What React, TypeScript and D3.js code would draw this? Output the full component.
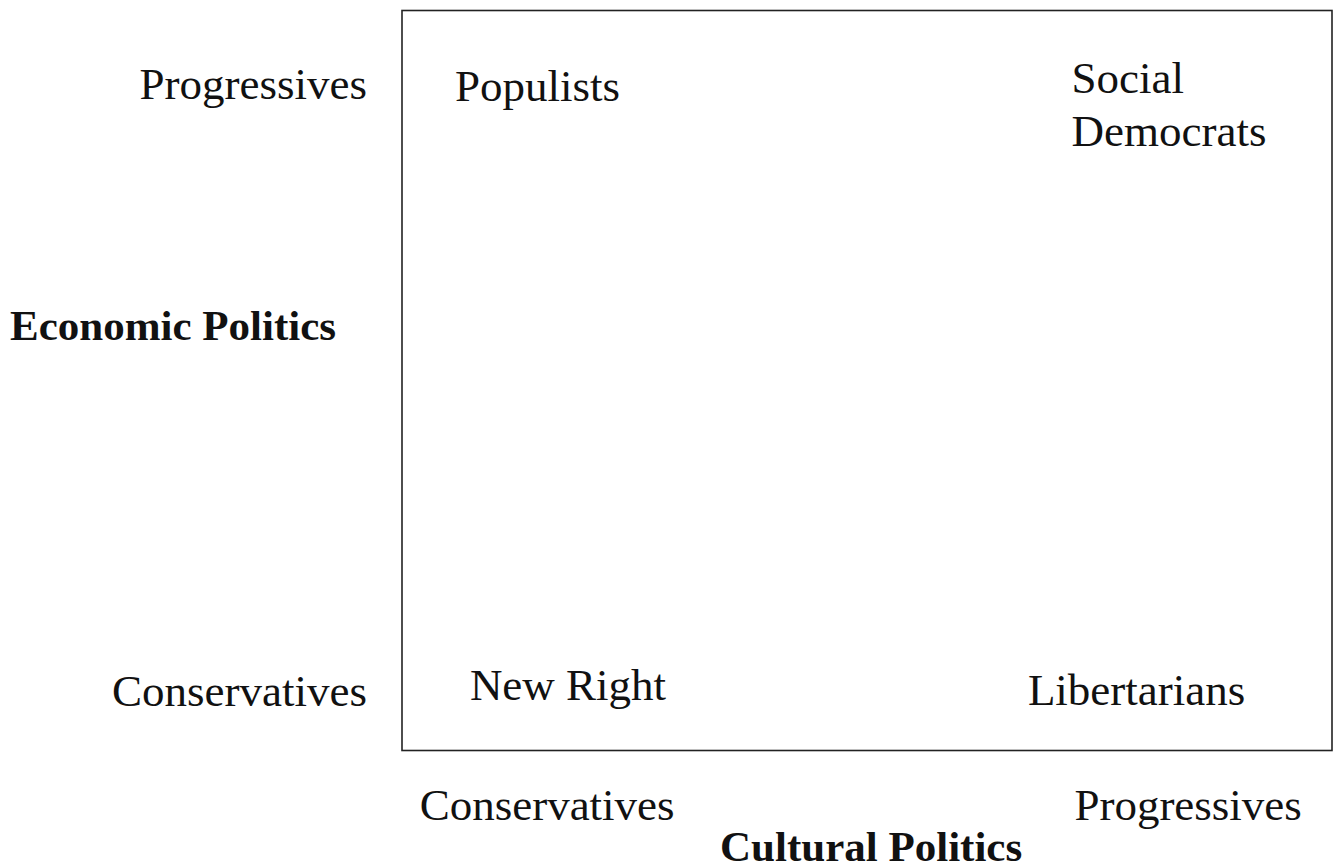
import * as d3 from 'd3';
import { useEffect, useRef } from 'react';

// quadrant names, placed by (cultural, economic) position on a 0..1 scale
const quadrantNames = [['Populists'], ['Social', 'Democrats'], ['New Right'], ['Libertarians']];
const quadrantCultural = [0.057, 0.72, 0.073, 0.673];
const quadrantEconomic = [0.878, 0.888, 0.068, 0.061];

// axis end labels
const economicTicks = ['Conservatives', 'Progressives'];
const economicTickValues = [0.06, 0.88];
const culturalTicks = ['Conservatives', 'Progressives'];
const culturalTickValues = [0.019, 0.723];

const economicTitle = 'Economic Politics';
const culturalTitle = 'Cultural Politics';

function App() {
  const svgRef = useRef(null);

  useEffect(() => {
    const svg = d3.select(svgRef.current);
    svg.selectAll('*').remove();

    const width = 1333;
    const height = 867;
    const box = { left: 402, top: 10.5, right: 1332, bottom: 750.5 };
    const font = '"Liberation Serif", "Times New Roman", serif';
    const fontSize = 45;
    const titleSize = 43;

    const xScale = d3.scaleLinear().domain([0, 1]).range([box.left, box.right]);
    const yScale = d3.scaleLinear().domain([0, 1]).range([box.bottom, box.top]);

    svg.attr('width', width).attr('height', height);

    svg.append('rect')
      .attr('x', xScale(0))
      .attr('y', yScale(1))
      .attr('width', xScale(1) - xScale(0))
      .attr('height', yScale(0) - yScale(1))
      .attr('fill', 'none')
      .attr('stroke', '#222')
      .attr('stroke-width', 1.6);

    // quadrant labels
    quadrantNames.forEach((lines, i) => {
      const t = svg.append('text')
        .attr('x', xScale(quadrantCultural[i]))
        .attr('y', yScale(quadrantEconomic[i]))
        .style('font-family', font)
        .style('font-size', `${fontSize}px`)
        .attr('fill', '#111');
      lines.forEach((line, j) => {
        t.append('tspan')
          .attr('x', xScale(quadrantCultural[i]))
          .attr('dy', j === 0 ? 0 : 53)
          .text(line);
      });
    });

    // economic (vertical) axis labels, right aligned left of the box
    economicTicks.forEach((label, i) => {
      svg.append('text')
        .attr('x', 367)
        .attr('y', yScale(economicTickValues[i]))
        .attr('text-anchor', 'end')
        .style('font-family', font)
        .style('font-size', `${fontSize}px`)
        .attr('fill', '#111')
        .text(label);
    });

    // cultural (horizontal) axis labels below the box
    culturalTicks.forEach((label, i) => {
      svg.append('text')
        .attr('x', xScale(culturalTickValues[i]))
        .attr('y', 820)
        .style('font-family', font)
        .style('font-size', `${fontSize}px`)
        .attr('fill', '#111')
        .text(label);
    });

    svg.append('text')
      .attr('x', 10)
      .attr('y', 340)
      .style('font-family', font)
      .style('font-size', `${titleSize}px`)
      .style('font-weight', 'bold')
      .attr('fill', '#111')
      .text(economicTitle);

    svg.append('text')
      .attr('x', 720)
      .attr('y', 861)
      .style('font-family', font)
      .style('font-size', `${titleSize}px`)
      .style('font-weight', 'bold')
      .attr('fill', '#111')
      .text(culturalTitle);
  }, []);

  return (
    <div style={{ position: 'absolute', top: 0, left: 0, background: 'white' }}>
      <svg ref={svgRef} style={{ display: 'block' }}></svg>
    </div>
  );
}

export default App;
